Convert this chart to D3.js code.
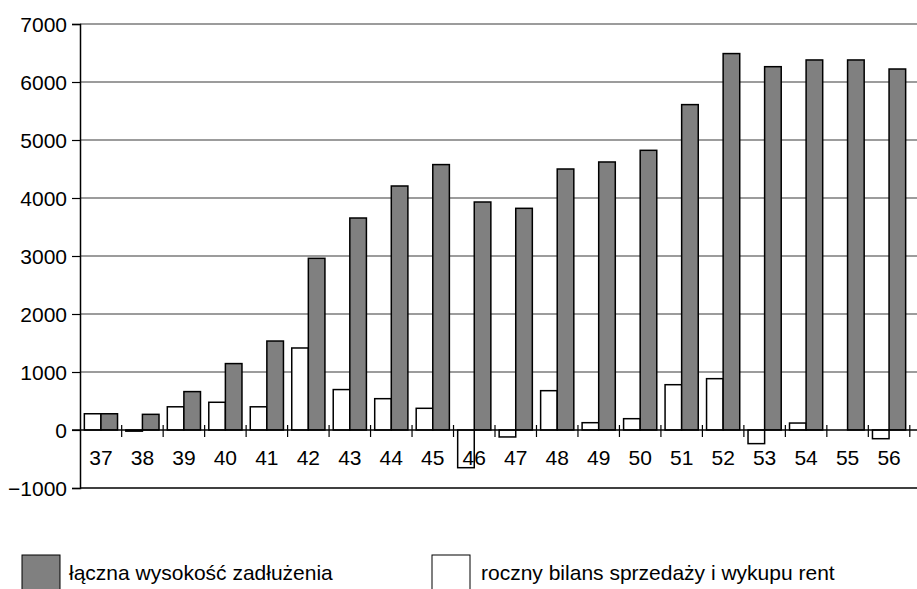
<!DOCTYPE html>
<html>
<head>
<meta charset="utf-8">
<script src="https://cdn.jsdelivr.net/npm/d3@7/dist/d3.min.js"></script>
<style>
  html, body { margin: 0; padding: 0; background: #fff; }
  svg { display: block; }
  text { font-family: "Liberation Sans", Arial, sans-serif; font-size: 21px; fill: #000; }
</style>
</head>
<body>
<script>
const categories = ["37","38","39","40","41","42","43","44","45","46","47","48","49","50","51","52","53","54","55","56"];
const debtTotal = [280, 270, 662, 1145, 1534, 2960, 3655, 4207, 4576, 3931, 3822, 4500, 4621, 4822, 5610, 6490, 6264, 6380, 6380, 6224];
const annualBalance = [280, -20, 400, 478, 400, 1414, 697, 540, 374, -650, -120, 678, 126, 195, 781, 885, -235, 120, 0, -150];
const yTicks = [-1000, 0, 1000, 2000, 3000, 4000, 5000, 6000, 7000];
const seriesNames = ["łączna wysokość zadłużenia", "roczny bilans sprzedaży i wykupu rent"];

const W = 917, H = 589;
const svg = d3.select("body").append("svg").attr("width", W).attr("height", H);

const x0 = d3.scaleBand().domain(categories).range([80.2, 909.8]).paddingInner(0).paddingOuter(0);
const x1 = d3.scaleBand().domain(["balance", "debt"]).range([0, x0.bandwidth()]).paddingInner(0).paddingOuter(0.25);
const y = d3.scaleLinear().domain([-1000, 7000]).range([488, 24]);

// gridlines
svg.append("g").selectAll("line").data(yTicks.filter(t => t > 0)).join("line")
  .attr("x1", 80).attr("x2", W).attr("y1", d => y(d)).attr("y2", d => y(d))
  .attr("stroke", "#3a3a3a").attr("stroke-width", 1.2);

// bottom line (-1000)
svg.append("line").attr("x1", 80).attr("x2", W).attr("y1", y(-1000)).attr("y2", y(-1000))
  .attr("stroke", "#000").attr("stroke-width", 1.5);

// y axis
const yAxis = d3.axisLeft(y).tickValues(yTicks).tickSize(8).tickPadding(5).tickFormat(d3.format("d"));
const gy = svg.append("g").attr("transform", "translate(80,0)").call(yAxis);
gy.select(".domain").attr("stroke", "#000").attr("stroke-width", 1.5);
gy.selectAll(".tick line").attr("stroke", "#000").attr("stroke-width", 1.2);
gy.selectAll(".tick text").attr("font-size", 21).attr("font-family", "Liberation Sans, Arial, sans-serif").attr("fill", "#000").attr("dy", "0.36em");

// bars
const groups = svg.append("g").selectAll("g").data(categories).join("g")
  .attr("transform", d => `translate(${x0(d)},0)`);

groups.append("rect")
  .attr("x", x1("balance")).attr("width", x1.bandwidth())
  .attr("y", (d, i) => y(Math.max(0, annualBalance[i])))
  .attr("height", (d, i) => Math.abs(y(annualBalance[i]) - y(0)))
  .attr("fill", "#fff").attr("stroke", "#000").attr("stroke-width", 1.5);

groups.append("rect")
  .attr("x", x1("debt")).attr("width", x1.bandwidth())
  .attr("y", (d, i) => y(Math.max(0, debtTotal[i])))
  .attr("height", (d, i) => Math.abs(y(debtTotal[i]) - y(0)))
  .attr("fill", "#808080").attr("stroke", "#000").attr("stroke-width", 1.5);

// zero axis with category ticks
const y0 = y(0);
svg.append("line").attr("x1", 72).attr("x2", W).attr("y1", y0).attr("y2", y0)
  .attr("stroke", "#000").attr("stroke-width", 1.5);
svg.append("g").selectAll("line").data(categories).join("line")
  .attr("x1", d => x0(d) + x0.bandwidth()).attr("x2", d => x0(d) + x0.bandwidth())
  .attr("y1", y0 - 5).attr("y2", y0 + 7)
  .attr("stroke", "#000").attr("stroke-width", 1.2);
svg.append("g").selectAll("text").data(categories).join("text")
  .attr("x", d => x0(d) + x0.bandwidth() / 2).attr("y", y0 + 35)
  .attr("text-anchor", "middle").text(d => d);

// legend
const legend = svg.append("g");
legend.append("rect").attr("x", 22).attr("y", 555).attr("width", 38).attr("height", 40)
  .attr("fill", "#808080").attr("stroke", "#000").attr("stroke-width", 1);
legend.append("text").attr("x", 69).attr("y", 580).text(seriesNames[0]);
legend.append("rect").attr("x", 432).attr("y", 555).attr("width", 38).attr("height", 40)
  .attr("fill", "#fff").attr("stroke", "#000").attr("stroke-width", 1);
legend.append("text").attr("x", 481).attr("y", 580).text(seriesNames[1]);
</script>
</body>
</html>
